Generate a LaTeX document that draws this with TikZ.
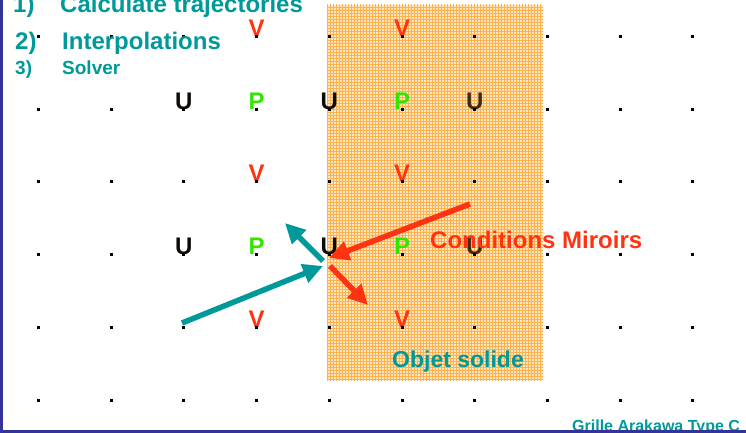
\documentclass[tikz,border=0pt]{standalone}
\usepackage{fontspec}
\setmainfont{Liberation Sans}
\usetikzlibrary{arrows.meta,patterns}

\definecolor{txtteal}{RGB}{0,153,153}
\definecolor{vred}{RGB}{255,51,17}
\definecolor{pgreen}{RGB}{51,230,0}
\definecolor{ublack}{RGB}{15,10,5}
\definecolor{ubrown}{RGB}{70,40,10}
\definecolor{solidfill}{RGB}{255,230,195}
\definecolor{solidgrid}{RGB}{255,178,75}
\definecolor{frameblue}{RGB}{51,51,153}

\begin{document}
\begin{tikzpicture}[x=1pt,y=-1pt,
  cell/.style={anchor=base,inner sep=0pt,font=\fontsize{24}{27}\selectfont\bfseries},
  uvel/.style={cell,text=ublack},
  vvel/.style={cell,text=vred},
  pres/.style={cell,text=pgreen},
  label/.style={anchor=base west,inner sep=0pt,font=\fontsize{24}{28}\selectfont\bfseries},
  fleche/.style={line width=5.5pt,-{Triangle[length=20pt,width=19pt]}}]
  \useasboundingbox (0,0) rectangle (746,433);

  % solid object (hatched orange block)
  \fill[solidfill] (327,5) rectangle (543,380);
  \fill[pattern=grid,pattern color=solidgrid] (327,5) rectangle (543,380);

  % grid points: 10 by 6
  \foreach \i in {0,...,9}
    \foreach \j in {0,...,5}
      \coordinate (g\i\j) at ({38.5+72.7*\i},{36.5+72.7*\j});

  % staggered variables
  \node[vvel] (v1) at (g30) {V};
  \node[vvel] (v2) at (g50) {V};

  \node[uvel] (u1) at (g21) {U};
  \node[pres] (p1) at (g31) {P};
  \node[uvel] (u2) at (g41) {U};
  \node[pres] (p2) at (g51) {P};
  \node[uvel,text=ubrown] (u3) at (g61) {U};

  \node[vvel] (v3) at (g32) {V};
  \node[vvel] (v4) at (g52) {V};

  \node[uvel] (u4) at (g23) {U};
  \node[pres] (p3) at (g33) {P};
  \node[uvel] (u5) at (g43) {U};
  \node[pres] (p4) at (g53) {P};
  \node[uvel,text=ubrown] (u6) at (g63) {U};

  \node[vvel] (v5) at (g34) {V};
  \node[vvel] (v6) at (g54) {V};

  % dots
  \foreach \i in {0,...,9}
    \foreach \j in {0,...,5}
      \fill (g\i\j) +(-1.5,-1.5) rectangle +(1.5,1.5);

  % arrows round the wall point
  \coordinate (inA) at (182,323);
  \coordinate (inB) at (323,266);
  \coordinate (outA) at (323,261);
  \coordinate (outB) at (285,223);
  \coordinate (mirA) at (470,204);
  \coordinate (mirB) at (329,258);
  \coordinate (refA) at (330,266);
  \coordinate (refB) at (368,305);
  \draw[fleche,txtteal] (inA) -- (inB);
  \draw[fleche,txtteal] (outA) -- (outB);
  \draw[fleche,vred] (mirA) -- (mirB);
  \draw[fleche,vred] (refA) -- (refB);

  % steps
  \node[label,text=txtteal] (n1) at (13,13) {1)};
  \node[label,text=txtteal] (s1) at (60,13) {Calculate trajectories};
  \node[label,text=txtteal] (n2) at (15,50) {2)};
  \node[label,text=txtteal] (s2) at (62,50) {Interpolations};
  \node[label,text=txtteal,font=\fontsize{19}{22}\selectfont\bfseries] (n3) at (15,75) {3)};
  \node[label,text=txtteal,font=\fontsize{19}{22}\selectfont\bfseries] (s3) at (62,75) {Solver};

  % captions
  \node[label,text=vred] (mir) at (430,248) {Conditions Miroirs};
  \node[label,text=txtteal,font=\fontsize{23}{26}\selectfont\bfseries] (obj) at (392,367) {Objet solide};
  \node[label,text=txtteal,font=\fontsize{16}{19}\selectfont\bfseries] (grille) at (572,431) {Grille Arakawa Type C};

  % frame
  \draw[frameblue,line width=2.5pt] (1.25,0) -- (1.25,433);
  \draw[frameblue,line width=3pt] (0,431.5) -- (746,431.5);
\end{tikzpicture}
\end{document}
